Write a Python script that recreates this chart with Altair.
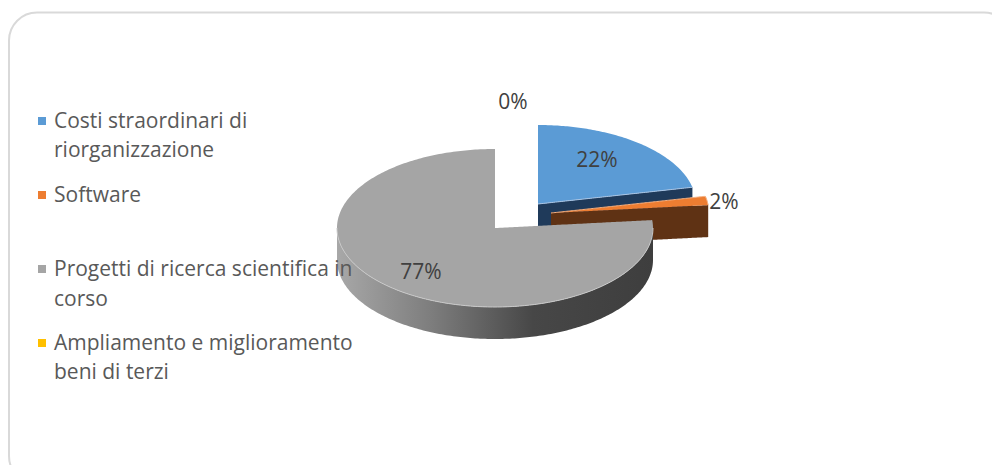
import numpy as np
import pandas as pd
import altair as alt

# --- chart values
categories = ["Costi straordinari di riorganizzazione", "Software",
              "Progetti di ricerca scientifica in corso",
              "Ampliamento e miglioramento beni di terzi"]
shares = [21.6, 1.8, 76.6, 0.0]
slice_labels = ["22%", "2%", "77%", "0%"]
colors = ["#5b9bd5", "#ed7d31", "#a5a5a5", "#ffc000"]
side_colors = ["#1f3a5a", "#5f3214"]

legend_lines = [["Costi straordinari di", "riorganizzazione"], ["Software"],
                ["Progetti di ricerca scientifica in", "corso"],
                ["Ampliamento e miglioramento", "beni di terzi"]]
legend_line_y = [[120, 149], [194], [268, 298], [342, 371]]
legend_mark_y = [121, 195, 269, 343]
label_x = [597, 724, 421, 513]
label_y = [159, 201, 271, 101]

# --- pie geometry
RX, RY, DEPTH = 158, 79, 32
CENTERS = [(538, 204), (551, 213), (495, 228)]

FONT = "Open Sans"
W, H = 984, 457
xs = alt.Scale(domain=[8, 992], nice=False, zero=False)
ys = alt.Scale(domain=[465, 8], nice=False, zero=False)


def angle(pct):
    return np.radians(pct * 3.6)


def upper(x, c):
    return c[1] - RY * np.sqrt(np.clip(1 - ((x - c[0]) / RX) ** 2, 0, 1))


def lower(x, c):
    return c[1] + RY * np.sqrt(np.clip(1 - ((x - c[0]) / RX) ** 2, 0, 1))


def end_point(c, pct):
    return c[0] + RX * np.sin(angle(pct)), c[1] - RY * np.cos(angle(pct))


def area(x, y, y2, fill):
    df = pd.DataFrame({"x": x, "y": y, "y2": y2})
    return alt.Chart(df).mark_area(fill=fill, orient="vertical", opacity=1).encode(
        x=alt.X("x:Q", scale=xs, axis=None),
        y=alt.Y("y:Q", scale=ys, axis=None, stack=None),
        y2="y2:Q",
    )


def line(x, y, stroke, width=1.0):
    df = pd.DataFrame({"x": x, "y": y})
    return alt.Chart(df).mark_line(color=stroke, strokeWidth=width).encode(
        x=alt.X("x:Q", scale=xs, axis=None),
        y=alt.Y("y:Q", scale=ys, axis=None),
        order=alt.Order("x:Q"),
    )


layers = []

# rounded card
card = pd.DataFrame({"x": [9], "x2": [1012], "y": [12.5], "y2": [484]})
layers.append(alt.Chart(card).mark_rect(
    fill="white", stroke="#d9d9d9", strokeWidth=2, cornerRadius=28, clip=True
).encode(x=alt.X("x:Q", scale=xs, axis=None), x2="x2:Q",
         y=alt.Y("y:Q", scale=ys, axis=None), y2="y2:Q"))

# blue slice: 0 .. s0
c = CENTERS[0]
ex, ey = end_point(c, shares[0])
x = np.linspace(c[0], ex, 80)
edge = c[1] + (ey - c[1]) * (x - c[0]) / (ex - c[0])
layers.append(area(x, edge, edge + DEPTH, side_colors[0]))
layers.append(area(x, upper(x, c), edge, colors[0]))
layers.append(line(x, edge, "#a9c4e4"))

# orange slice: s0 .. s0+s1
c = CENTERS[1]
ax, ay = end_point(c, shares[0])
bx, by = end_point(c, shares[0] + shares[1])
x = np.linspace(c[0], bx, 120)
edge = c[1] + (by - c[1]) * (x - c[0]) / (bx - c[0])
top = np.where(x <= ax, c[1] + (ay - c[1]) * (x - c[0]) / (ax - c[0]), upper(x, c))
layers.append(area(x, edge, edge + DEPTH, side_colors[1]))
layers.append(area(x, top, edge, colors[1]))
layers.append(line(x, top, "#f4b183"))

# grey slice: s0+s1 .. 100
c = CENTERS[2]
ex, ey = end_point(c, shares[0] + shares[1])
x_full = c[0] - RX * np.cos(np.linspace(0, np.pi, 201))
gradient = alt.Gradient(gradient="linear", x1=0, x2=1, y1=0, y2=0, stops=[
    alt.GradientStop(offset=0, color="#a8a8a8"),
    alt.GradientStop(offset=0.3, color="#7d7d7d"),
    alt.GradientStop(offset=0.62, color="#474747"),
    alt.GradientStop(offset=1, color="#3e3e3e"),
])
layers.append(area(x_full, lower(x_full, c), lower(x_full, c) + DEPTH, gradient))

# top face: one area whose upper edge steps down at the slice's apex
x_left = np.append(x_full[x_full < c[0]], c[0])
x_right = np.append(c[0], x_full[x_full > c[0]])
x_top = np.concatenate([x_left, x_right])
y_left = upper(x_left, c)
y_right = np.where(x_right <= ex, c[1] + (ey - c[1]) * (x_right - c[0]) / (ex - c[0]), upper(x_right, c))
layers.append(area(x_top, np.concatenate([y_left, y_right]), lower(x_top, c), colors[2]))
layers.append(line(x_full, lower(x_full, c), "#c9c9c9"))

# slice labels
labels_df = pd.DataFrame({"x": label_x, "y": label_y, "t": slice_labels})
layers.append(alt.Chart(labels_df).mark_text(
    font=FONT, fontSize=21, color="#404040", align="center", baseline="middle", dy=2
).encode(x=alt.X("x:Q", scale=xs, axis=None), y=alt.Y("y:Q", scale=ys, axis=None), text="t:N"))

# legend
marks_df = pd.DataFrame({"x": [42] * 4, "y": legend_mark_y, "c": colors})
layers.append(alt.Chart(marks_df).mark_square(size=64, opacity=1).encode(
    x=alt.X("x:Q", scale=xs, axis=None), y=alt.Y("y:Q", scale=ys, axis=None),
    color=alt.Color("c:N", scale=None)))
texts = [(t, yy) for lines, ypos in zip(legend_lines, legend_line_y) for t, yy in zip(lines, ypos)]
legend_df = pd.DataFrame({"x": [54] * len(texts), "y": [p[1] for p in texts], "t": [p[0] for p in texts]})
layers.append(alt.Chart(legend_df).mark_text(
    font=FONT, fontSize=21, color="#595959", align="left", baseline="middle", dy=2
).encode(x=alt.X("x:Q", scale=xs, axis=None), y=alt.Y("y:Q", scale=ys, axis=None), text="t:N"))

chart = alt.layer(*layers).properties(
    width=W, height=H, padding=0, autosize=alt.AutoSizeParams(type="none")
).configure_view(stroke=None)

chart.save("out.html", embed_options={"renderer": "svg", "actions": False})
